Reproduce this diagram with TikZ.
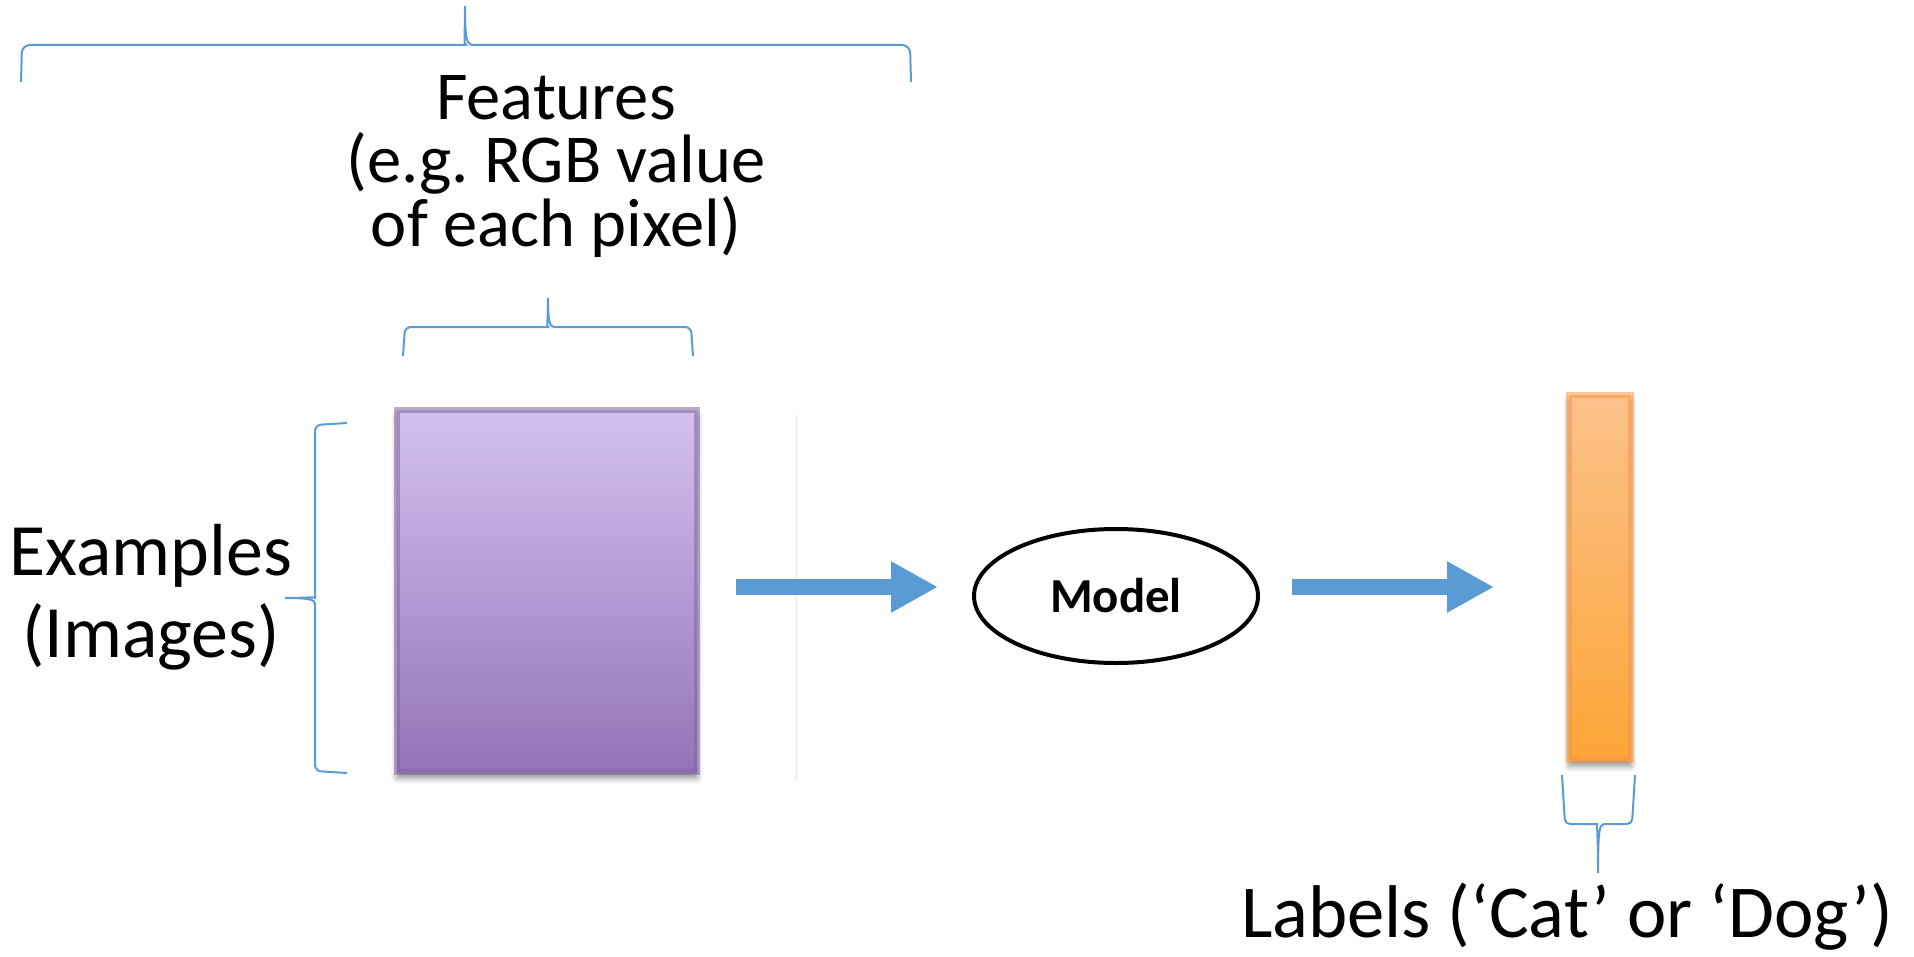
\documentclass[tikz,border=0pt]{standalone}
\usepackage{fontspec}
\setmainfont{Carlito}
\usepackage{tikz}
\usetikzlibrary{shapes,arrows.meta,positioning,calc,shadows.blur}
\usepackage{xcolor}
\definecolor{officeblue}{RGB}{91,155,213}
\definecolor{purpletop}{RGB}{212,193,239}
\definecolor{purplebot}{RGB}{148,116,184}
\definecolor{purpleedge}{RGB}{128,100,162}
\definecolor{orangetop}{RGB}{252,194,139}
\definecolor{orangebot}{RGB}{252,165,55}
\definecolor{orangeedge}{RGB}{247,150,70}

\begin{document}
\begin{tikzpicture}[
    imgbox/.style={rectangle, draw=purpleedge, draw opacity=0.55, line width=0.12cm,
                   top color=purpletop, bottom color=purplebot,
                   minimum width=6cm, minimum height=7.24cm, inner sep=0pt, outer sep=0pt,
                   blur shadow={shadow xshift=0cm, shadow yshift=-0.12cm,
                                shadow blur radius=0.12cm, shadow opacity=45}},
    labbox/.style={imgbox, draw=orangeedge, top color=orangetop, bottom color=orangebot,
                   minimum width=1.24cm, minimum height=7.3cm},
    model/.style={ellipse, draw=black, line width=0.08cm, minimum width=5.68cm,
                  minimum height=2.68cm, inner sep=0pt, outer sep=0pt,
                  font=\fontsize{27.8pt}{30pt}\selectfont\bfseries},
    txt/.style={align=center, inner sep=0pt},
    arr/.style={-{Triangle[length=0.94cm, width=0.96cm]}, line width=0.32cm, officeblue},
    fbrace/.style={draw=officeblue, line width=0.04cm}
]
\useasboundingbox (0,0) rectangle (38.28,-19.14);

% boxes
\node[imgbox] (imgs)  at (10.94,-11.82) {};
\node[labbox] (labs)  at (32.0,-11.55)  {};
\node[model]  (model) at (22.32,-11.92) {Model};
\draw[black!5, line width=0.06cm] (15.92,-8.3) -- (15.92,-15.62);

% text
\node[txt, font=\fontsize{39pt}{36.3pt}\selectfont] (features) at (11.12,-3.33)
    {Features\\(e.g.\ RGB value\\of each pixel)};
\node[txt, font=\fontsize{42pt}{46.5pt}\selectfont] (examples) at (3.02,-11.94)
    {Examples\\(Images)};
\node[txt, font=\fontsize{42.5pt}{46pt}\selectfont, anchor=base] (labels) at (31.34,-18.74)
    {Labels (‘Cat’ or ‘Dog’)};

% arrows
\coordinate (arrowy) at (0,-11.74);
\draw[arr, shorten <=0.78cm, shorten >=0.72cm] (imgs.east |- arrowy) -- (model.west |- arrowy);
\draw[arr, shorten <=0.68cm, shorten >=1.50cm] (model.east |- arrowy) -- (labs.west |- arrowy);

% braces
\draw[fbrace] [rounded corners=0.16cm] (0.42,-1.64) -- (0.44,-0.90) -- (9.16,-0.90)
    [sharp corners] .. controls (9.27,-0.90) and (9.30,-0.72) .. (9.30,-0.12)
    .. controls (9.30,-0.72) and (9.33,-0.90) .. (9.44,-0.90)
    [rounded corners=0.16cm] -- (18.20,-0.90) -- (18.22,-1.64);
\draw[fbrace] [rounded corners=0.12cm] (8.06,-7.12) -- (8.10,-6.54) -- (10.84,-6.54)
    [sharp corners] .. controls (10.93,-6.54) and (10.96,-6.40) .. (10.96,-5.96)
    .. controls (10.96,-6.40) and (10.99,-6.54) .. (11.08,-6.54)
    [rounded corners=0.12cm] -- (13.82,-6.54) -- (13.86,-7.12);
\draw[fbrace] [rounded corners=0.12cm] (6.94,-8.46) -- (6.30,-8.50) -- (6.30,-11.84)
    [sharp corners] .. controls (6.30,-11.93) and (6.18,-11.96) .. (5.70,-11.96)
    .. controls (6.18,-11.96) and (6.30,-11.99) .. (6.30,-12.08)
    [rounded corners=0.12cm] -- (6.30,-15.42) -- (6.94,-15.46);
\draw[fbrace] [rounded corners=0.1cm] (31.24,-15.50) -- (31.30,-16.48) -- (31.84,-16.48)
    [sharp corners] .. controls (31.93,-16.48) and (31.96,-16.62) .. (31.96,-17.46)
    .. controls (31.96,-16.62) and (31.99,-16.48) .. (32.08,-16.48)
    [rounded corners=0.1cm] -- (32.64,-16.48) -- (32.70,-15.50);
\end{tikzpicture}
\end{document}
